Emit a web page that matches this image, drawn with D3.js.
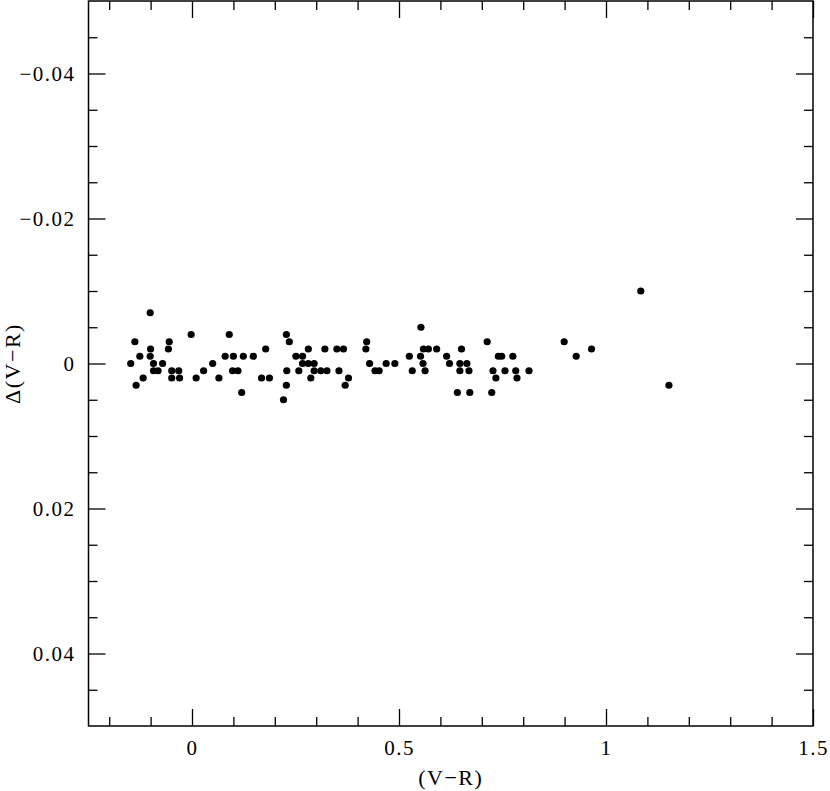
<!DOCTYPE html>
<html>
<head>
<meta charset="utf-8">
<script src="https://cdn.jsdelivr.net/npm/d3@7"></script>
<style>
  body { margin: 0; background: #fff; }
  svg { display: block; }
  .axis text { font-family: "Liberation Serif", serif; font-size: 21px; letter-spacing: 1.5px; fill: #000; }
  .axis line { stroke: #000; stroke-width: 1.3; }
  .label { font-family: "Liberation Serif", serif; font-size: 22px; letter-spacing: 1.5px; }
</style>
</head>
<body>
<script>
// colour (V-R) vs residual Delta(V-R)
var vr = [
  -0.101, -0.002, 0.090, 0.228, -0.138, -0.055, 0.235, -0.100, -0.057, 0.178,
  -0.126, -0.101, 0.080, 0.100, 0.124, 0.148, -0.148, -0.093, -0.071, 0.050,
  -0.093, -0.082, -0.049, -0.032, 0.028, 0.098, 0.111, 0.229, -0.118, -0.049,
  -0.030, 0.010, 0.065, 0.168, 0.187, 0.228, -0.135, 0.120, 0.221,
  0.553, 0.422, 0.281, 0.321, 0.350, 0.366, 0.420, 0.559, 0.571, 0.591,
  0.651, 0.251, 0.267, 0.525, 0.552, 0.615, 0.267, 0.281, 0.295, 0.429,
  0.469, 0.490, 0.558, 0.622, 0.258, 0.295, 0.311, 0.326, 0.355, 0.442,
  0.452, 0.532, 0.563, 0.287, 0.378, 0.370,
  1.084, 0.713, 0.899, 0.965, 0.740, 0.748, 0.775, 0.928, 0.647, 0.664,
  0.647, 0.669, 0.727, 0.756, 0.782, 0.814, 0.734, 0.785, 1.152, 0.641,
  0.671, 0.724
];
var dvr = [
  -0.007, -0.004, -0.004, -0.004, -0.003, -0.003, -0.003, -0.002, -0.002, -0.002,
  -0.001, -0.001, -0.001, -0.001, -0.001, -0.001, 0, 0, 0, 0,
  0.001, 0.001, 0.001, 0.001, 0.001, 0.001, 0.001, 0.001, 0.002, 0.002,
  0.002, 0.002, 0.002, 0.002, 0.002, 0.003, 0.003, 0.004, 0.005,
  -0.005, -0.003, -0.002, -0.002, -0.002, -0.002, -0.002, -0.002, -0.002, -0.002,
  -0.002, -0.001, -0.001, -0.001, -0.001, -0.001, 0, 0, 0, 0,
  0, 0, 0, 0, 0.001, 0.001, 0.001, 0.001, 0.001, 0.001,
  0.001, 0.001, 0.001, 0.002, 0.002, 0.003,
  -0.010, -0.003, -0.003, -0.002, -0.001, -0.001, -0.001, -0.001, 0, 0,
  0.001, 0.001, 0.001, 0.001, 0.001, 0.001, 0.002, 0.002, 0.003, 0.004,
  0.004, 0.004
];

var xMajor = [0, 0.5, 1, 1.5];
var xMinor = [-0.2, -0.1, 0.1, 0.2, 0.3, 0.4, 0.6, 0.7, 0.8, 0.9, 1.1, 1.2, 1.3, 1.4];
var yMajor = [-0.04, -0.02, 0, 0.02, 0.04];
var yMinor = [-0.045, -0.035, -0.03, -0.025, -0.015, -0.01, -0.005,
              0.005, 0.01, 0.015, 0.025, 0.03, 0.035, 0.045];

var fullWidth = 830, fullHeight = 791;
var frame = {left: 88.5, right: 813, top: 1, bottom: 726};

var x = d3.scaleLinear().domain([-0.25, 1.5]).range([frame.left, frame.right]);
var y = d3.scaleLinear().domain([-0.05, 0.05]).range([frame.top, frame.bottom]);

var svg = d3.select("body").append("svg")
  .attr("width", fullWidth)
  .attr("height", fullHeight);

var yFmt = function(d) { return d === 0 ? "0" : d3.format(".2f")(d); };
var xFmt = d3.format("~g");
var bigTick = 17, smallTick = 9;

// bottom
svg.append("g").attr("class", "axis")
  .attr("transform", "translate(0," + frame.bottom + ")")
  .call(d3.axisBottom(x).tickValues(xMajor).tickFormat(xFmt).tickSizeInner(-bigTick).tickSizeOuter(0).tickPadding(14));
svg.append("g").attr("class", "axis")
  .attr("transform", "translate(0," + frame.bottom + ")")
  .call(d3.axisBottom(x).tickValues(xMinor).tickFormat("").tickSizeInner(-smallTick).tickSizeOuter(0));
// top
svg.append("g").attr("class", "axis")
  .attr("transform", "translate(0," + frame.top + ")")
  .call(d3.axisTop(x).tickValues(xMajor).tickFormat("").tickSizeInner(-bigTick).tickSizeOuter(0));
svg.append("g").attr("class", "axis")
  .attr("transform", "translate(0," + frame.top + ")")
  .call(d3.axisTop(x).tickValues(xMinor).tickFormat("").tickSizeInner(-smallTick).tickSizeOuter(0));
// left
svg.append("g").attr("class", "axis")
  .attr("transform", "translate(" + frame.left + ",0)")
  .call(d3.axisLeft(y).tickValues(yMajor).tickFormat(yFmt).tickSizeInner(-bigTick).tickSizeOuter(0).tickPadding(13));
svg.append("g").attr("class", "axis")
  .attr("transform", "translate(" + frame.left + ",0)")
  .call(d3.axisLeft(y).tickValues(yMinor).tickFormat("").tickSizeInner(-smallTick).tickSizeOuter(0));
// right
svg.append("g").attr("class", "axis")
  .attr("transform", "translate(" + frame.right + ",0)")
  .call(d3.axisRight(y).tickValues(yMajor).tickFormat("").tickSizeInner(-bigTick).tickSizeOuter(0));
svg.append("g").attr("class", "axis")
  .attr("transform", "translate(" + frame.right + ",0)")
  .call(d3.axisRight(y).tickValues(yMinor).tickFormat("").tickSizeInner(-smallTick).tickSizeOuter(0));

svg.selectAll(".axis .domain").remove();

// frame
svg.append("rect")
  .attr("x", frame.left).attr("y", frame.top)
  .attr("width", frame.right - frame.left).attr("height", frame.bottom - frame.top)
  .attr("fill", "none").attr("stroke", "#000").attr("stroke-width", 1.5);

svg.selectAll(".dot")
  .data(d3.range(vr.length))
  .enter().append("circle")
    .attr("class", "dot")
    .attr("r", 3.6)
    .attr("cx", function(i) { return x(vr[i]); })
    .attr("cy", function(i) { return y(dvr[i]); })
    .style("fill", "#000");

svg.append("text")
  .attr("class", "label")
  .attr("x", (frame.left + frame.right) / 2)
  .attr("y", 785)
  .style("text-anchor", "middle")
  .text("(V\u2212R)");

svg.append("text")
  .attr("class", "label")
  .attr("transform", "translate(20," + y(0) + ") rotate(-90)")
  .style("text-anchor", "middle")
  .text("\u0394(V\u2212R)");
</script>
</body>
</html>
